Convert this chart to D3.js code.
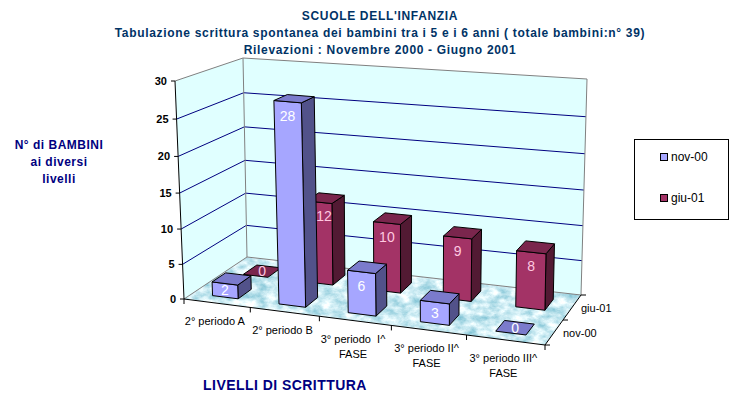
<!DOCTYPE html>
<html>
<head>
<meta charset="utf-8">
<script src="https://cdn.jsdelivr.net/npm/d3@7"></script>
<style>
  html, body { margin: 0; padding: 0; background: #fff; }
  svg { display: block; }
  text { font-family: "Liberation Sans", Arial, sans-serif; white-space: pre; }
</style>
</head>
<body>
<svg id="chart" width="736" height="394"></svg>
<script>
const categories = [
    ["2° periodo A"],
    ["2° periodo B"],
    ["3° periodo  I^", "FASE"],
    ["3° periodo II^", "FASE"],
    ["3° periodo III^", "FASE"]
];
const seriesNames = ["nov-00", "giu-01"];
const nov00 = [2, 28, 6, 3, 0];
const giu01 = [0, 12, 10, 9, 8];
const yTicks = [0, 5, 10, 15, 20, 25, 30];
const titleLines = [
    "SCUOLE DELL'INFANZIA",
    "Tabulazione scrittura spontanea dei bambini tra i 5 e i 6 anni ( totale bambini:n° 39)",
    "Rilevazioni : Novembre 2000 - Giugno 2001"
];
const yTitleLines = ["N° di BAMBINI", "ai diversi", "livelli"];

const PALETTE = [
    { front: "#a6a6ff", top: "#7b7bcc", side: "#52528a", label: "#ffffff" },
    { front: "#a33366", top: "#7a264d", side: "#521a33", label: "#ffc8e0" }
];
const BAR = { cat: [0.305, 0.695], depth: [0.28, 0.72] };

// corners of the 3D box on screen: front/back, left/right, floor and ceiling
const BOX = {
    floor: { fl: [184, 299], fr: [545, 345], bl: [247, 257], br: [581, 295] },
    ceil:  { fl: [175, 81],  fr: [548, 113], bl: [243, 58],  br: [587, 79] }
};

const x = d3.scaleLinear().domain([0, categories.length]).range([0, 1]);
const d = d3.scaleLinear().domain([0, seriesNames.length]).range([0, 1]);
const y = d3.scaleLinear().domain([0, 30]).range([0, 1]);

// the picture has perspective: spacing is not even along the box edges
const warp = (a, t) => a * t / (1 + (a - 1) * t);

function corner(c, t, v) {
    const lerp = (a, b, k) => a + (b - a) * k;
    return [0, 1].map(i => lerp(
        lerp(c.fl[i], c.fr[i], t),
        lerp(c.bl[i], c.br[i], t),
        v));
}

// category, series depth, value -> screen
function project(cat, dep, val) {
    const t = warp(0.9, x(cat)), v = d(dep), z = warp(0.945, y(val));
    const a = corner(BOX.floor, t, v), b = corner(BOX.ceil, t, v);
    return [a[0] + (b[0] - a[0]) * z, a[1] + (b[1] - a[1]) * z];
}

const svg = d3.select("#chart");
const path = pts => "M" + pts.map(p => p.join(",")).join("L") + "Z";
const openPath = pts => "M" + pts.map(p => p.join(",")).join("L");

const defs = svg.append("defs");
const marble = defs.append("filter").attr("id", "marble")
    .attr("color-interpolation-filters", "sRGB")
    .attr("x", 0).attr("y", 0).attr("width", 1).attr("height", 1);
marble.append("feTurbulence").attr("type", "fractalNoise")
    .attr("baseFrequency", "0.09 0.13").attr("numOctaves", 5).attr("seed", 7).attr("result", "n");
marble.append("feColorMatrix").attr("in", "n").attr("type", "matrix")
    .attr("values", "0.75 0 0 0 0.42  0.4 0 0 0 0.72  0.3 0 0 0 0.8  0 0 0 0 1").attr("result", "c");
marble.append("feComposite").attr("in", "c").attr("in2", "SourceGraphic").attr("operator", "in");

// titles
svg.append("g").selectAll("text").data(titleLines).join("text")
    .attr("x", 380)
    .attr("y", (t, i) => 20 + i * 17)
    .attr("text-anchor", "middle")
    .attr("font-size", 12)
    .attr("font-weight", "bold")
    .attr("letter-spacing", 0.68)
    .attr("fill", "#003366")
    .text(t => t);

svg.append("g").selectAll("text").data(yTitleLines).join("text")
    .attr("x", 59)
    .attr("y", (t, i) => 149 + i * 17)
    .attr("text-anchor", "middle")
    .attr("font-size", 12)
    .attr("font-weight", "bold")
    .attr("letter-spacing", 0.5)
    .attr("fill", "#000080")
    .text(t => t);

svg.append("text")
    .attr("x", 285).attr("y", 390)
    .attr("text-anchor", "middle")
    .attr("font-size", 14)
    .attr("font-weight", "bold")
    .attr("letter-spacing", 0.45)
    .attr("fill", "#000080")
    .text("LIVELLI DI SCRITTURA");

// walls and floor
const nCat = categories.length, nDep = seriesNames.length;
const walls = svg.append("g").attr("class", "walls");
walls.append("path")
    .attr("fill", "#e0ffff")
    .attr("d", path([project(0, 0, 0), project(0, 0, 30), project(0, nDep, 30), project(nCat, nDep, 30), project(nCat, nDep, 0), project(0, nDep, 0)]));
walls.append("path")
    .attr("fill", "#bfeeee")
    .attr("filter", "url(#marble)")
    .attr("d", path([project(0, 0, 0), project(nCat, 0, 0), project(nCat, nDep, 0), project(0, nDep, 0)]));

// gridlines on both walls
walls.selectAll("path.grid").data(yTicks.filter(t => t > 0 && t < 30)).join("path")
    .attr("class", "grid")
    .attr("fill", "none")
    .attr("stroke", "#000080")
    .attr("d", t => openPath([project(0, 0, t), project(0, nDep, t), project(nCat, nDep, t)]));

walls.append("path")
    .attr("fill", "none")
    .attr("stroke", "#808080")
    .attr("d", openPath([project(0, 0, 30), project(0, nDep, 30), project(nCat, nDep, 30), project(nCat, nDep, 0), project(0, nDep, 0), project(0, 0, 0)]));
walls.append("path")
    .attr("fill", "none")
    .attr("stroke", "#808080")
    .attr("d", openPath([project(0, nDep, 30), project(0, nDep, 0)]));

// axes
const axes = svg.append("g").attr("class", "axes").attr("stroke", "#000").attr("fill", "none");
axes.append("path").attr("d", openPath([project(0, 0, 30), project(0, 0, 0), project(nCat, 0, 0), project(nCat, nDep, 0)]));
yTicks.forEach(t => {
    const p = project(0, 0, t);
    axes.append("path").attr("d", `M${p[0] - 4},${p[1]}H${p[0]}`);
});
d3.range(nCat + 1).forEach(i => {
    const p = project(i, 0, 0);
    axes.append("path").attr("d", `M${p[0]},${p[1]}v5`);
});
d3.range(nDep + 1).forEach(i => {
    const p = project(nCat, i, 0);
    axes.append("path").attr("d", `M${p[0]},${p[1]}h5`);
});

svg.append("g").selectAll("text").data(yTicks).join("text")
    .attr("x", t => project(0, 0, t)[0] - 8)
    .attr("y", t => project(0, 0, t)[1] + 4)
    .attr("text-anchor", "end")
    .attr("font-size", 11)
    .attr("font-weight", "bold")
    .text(t => t);

svg.append("g").selectAll("g").data(categories).join("g")
    .attr("transform", (c, i) => {
        const p = project(i + 0.5, 0, 0);
        return `translate(${p[0] - 2},${p[1] + 22})`;
    })
    .selectAll("text").data(c => c).join("text")
    .attr("y", (t, i) => i * 15)
    .attr("text-anchor", "middle")
    .attr("font-size", 11)
    .text(t => t);

svg.append("g").selectAll("text").data(seriesNames).join("text")
    .attr("x", (s, i) => project(nCat, i + 0.5, 0)[0] + 9)
    .attr("y", (s, i) => project(nCat, i + 0.5, 0)[1] + 4)
    .attr("font-size", 11)
    .text(s => s);

// bars, back series first so the front one overlaps it
const bars = svg.append("g").attr("class", "bars");
const labels = svg.append("g").attr("class", "labels");
[giu01, nov00].forEach(values => {
    const s = values === nov00 ? 0 : 1;
    const col = PALETTE[s];
    values.forEach((val, i) => {
        const c0 = i + BAR.cat[0], c1 = i + BAR.cat[1];
        const d0 = s + BAR.depth[0], d1 = s + BAR.depth[1];
        const g = bars.append("g")
            .attr("stroke", "#000")
            .attr("stroke-linejoin", "round");
        if (val > 0) {
            g.append("path").attr("fill", col.side)
                .attr("d", path([project(c1, d0, 0), project(c1, d1, 0), project(c1, d1, val), project(c1, d0, val)]));
            g.append("path").attr("fill", col.front)
                .attr("d", path([project(c0, d0, 0), project(c1, d0, 0), project(c1, d0, val), project(c0, d0, val)]));
        }
        g.append("path").attr("fill", col.top)
            .attr("d", path([project(c0, d0, val), project(c1, d0, val), project(c1, d1, val), project(c0, d1, val)]));

        const top = project(i + 0.5, d0, val);
        const base = project(i + 0.5, d0, 0);
        const flat = project(i + 0.5, s + 0.5, val);
        let lx = val > 0 ? top[0] : flat[0];
        const ly = val > 0 ? top[1] + Math.min(14, (base[1] - top[1]) / 2) : flat[1];
        // a taller bar in front hides part of this face: centre on what is left
        if (s === 1 && val > 0 && nov00[i] > val) {
            const hidden = project(c1, BAR.depth[1], val)[0];
            const right = project(c1, d0, val)[0];
            if (hidden > project(c0, d0, val)[0]) lx = (hidden + right) / 2;
        }
        labels.append("text")
            .attr("x", lx).attr("y", ly + 5)
            .attr("text-anchor", "middle")
            .attr("font-size", 14)
            .attr("fill", col.label)
            .text(val);
    });
});

// legend
const legend = svg.append("g");
legend.append("rect")
    .attr("x", 634.5).attr("y", 139.5).attr("width", 94).attr("height", 80)
    .attr("fill", "#fff").attr("stroke", "#000");
seriesNames.forEach((name, i) => {
    const ly = 160 + i * 41;
    legend.append("rect")
        .attr("x", 660.5).attr("y", ly - 6.5).attr("width", 7).attr("height", 7)
        .attr("fill", PALETTE[i].front).attr("stroke", "#000");
    legend.append("text")
        .attr("x", 671).attr("y", ly + 1)
        .attr("font-size", 12)
        .text(name);
});
</script>
</body>
</html>
